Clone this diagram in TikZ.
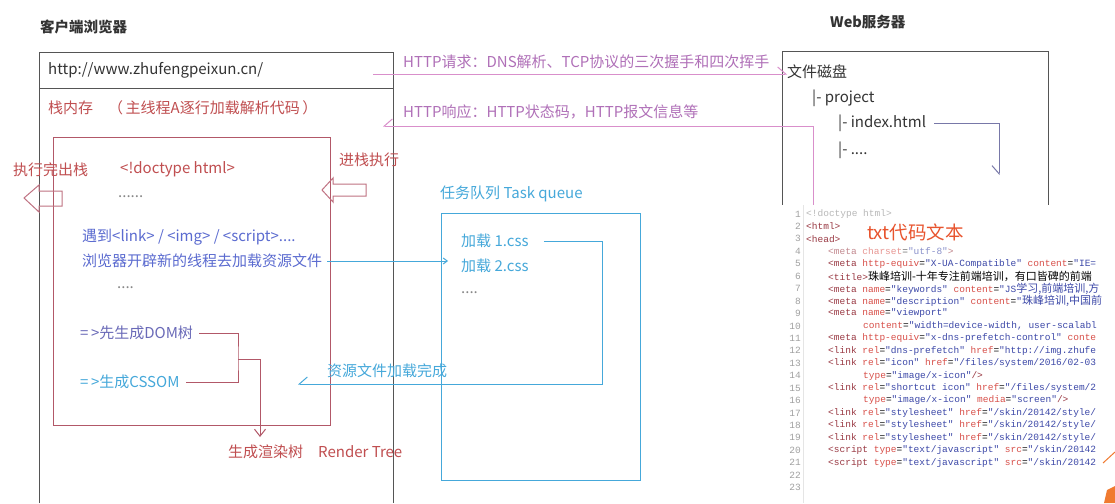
\documentclass[tikz,border=0pt]{standalone}
\usepackage{fontspec}
\setmainfont{Noto Sans CJK SC}
\newfontfamily\codefont{Liberation Mono}
\newfontfamily\cjkcode{Noto Sans CJK SC}
\usetikzlibrary{arrows.meta}
\definecolor{frame}{HTML}{555555}
\definecolor{titletxt}{HTML}{333333}
\definecolor{redtxt}{HTML}{C04E50}
\definecolor{stackc}{HTML}{B25868}
\definecolor{bluetxt}{HTML}{5B6BD0}
\definecolor{domtxt}{HTML}{6A6AB8}
\definecolor{cyanc}{HTML}{45A8DA}
\definecolor{pinkline}{HTML}{D98FCB}
\definecolor{httptxt}{HTML}{B070B8}
\definecolor{arrowc}{HTML}{C07282}
\definecolor{idxline}{HTML}{7878A8}
\definecolor{txtlabel}{HTML}{E8542E}
\definecolor{ctag}{HTML}{9A3A44}
\definecolor{cattr}{HTML}{D8504A}
\definecolor{cval}{HTML}{3C48A8}
\definecolor{cnum}{HTML}{A0A0A0}
\definecolor{cgray}{HTML}{B8B8B8}
\definecolor{dotsc}{HTML}{888888}
\definecolor{slideorange}{HTML}{F07A30}
\newcommand\ctg[1]{\textcolor{ctag}{#1}}
\newcommand\cat[1]{\textcolor{cattr}{#1}}
\newcommand\cvl[1]{\textcolor{cval}{#1}}
\newcommand\ccj[1]{{\cjkcode\fontsize{11}{12}\selectfont #1}}
\tikzset{
  lbl/.style={anchor=west, inner sep=0pt, font=\fontsize{15}{16}\selectfont},
  ttl/.style={anchor=west, inner sep=0pt, text=titletxt, font=\fontsize{14.5}{16}\selectfont\bfseries},
  boxline/.style={draw=frame, line width=1pt},
  codeline/.style={anchor=west, inner sep=0pt, font=\codefont\fontsize{9.5}{10}\selectfont},
  lineno/.style={anchor=east, inner sep=0pt, text=cnum, font=\codefont\fontsize{9.5}{10}\selectfont},
  hollow/.style={draw=arrowc, line width=1pt, line join=miter},
  harp/.style={-{Straight Barb[harpoon,length=8pt,width=14pt]}},
  harpsw/.style={-{Straight Barb[harpoon,swap,length=8pt,width=14pt]}},
  vtip/.style={-{Straight Barb[length=7pt,width=11pt]}},
  smalltip/.style={-{Straight Barb[length=4pt,width=6pt]}},
}
\begin{document}
\begin{tikzpicture}[x=1pt,y=-1pt]
\useasboundingbox (0,0) rectangle (1115,503);
\fill[white] (0,0) rectangle (1115,503);

% ---------- browser ----------
\node[ttl] (btitle) at (40,27) {客户端浏览器};
\draw[boxline] (39,503) -- (39,53) -- (393,53) -- (393,503);
\draw[boxline] (39,88) -- (393,88);
\node[lbl, text=titletxt] (url) at (48,70) {http://www.zhufengpeixun.cn/};
\node[lbl, text=redtxt] (stacktitle) at (48,108) {栈内存\quad（\,主线程A逐行加载解析代码\,）};
\draw[draw=stackc, line width=1pt] (53,137) rectangle (330,425);

\node[lbl, text=redtxt] (popout) at (13,170) {执行完出栈};
\draw[hollow] (24,198) -- (39,185) -- (39,191) -- (62,191) -- (62,206) -- (39,206) -- (39,212) -- cycle;
\node[lbl, text=redtxt] (pushin) at (339,160) {进栈执行};
\draw[hollow] (322,190) -- (333,178) -- (333,184) -- (366,184) -- (366,196) -- (333,196) -- (333,202) -- cycle;

\node[lbl, text=redtxt] (doctype) at (120,169) {<!doctype html>};
\node[lbl, text=dotsc] (dots1) at (118,197) {......};
\node[lbl, text=bluetxt] (meet) at (82,237) {遇到<link> / <img> / <script>....};
\node[lbl, text=bluetxt] (newthread) at (82,261) {浏览器开辟新的线程去加载资源文件};
\node[lbl, text=dotsc] (dots2) at (117,288) {....};
\node[lbl, text=domtxt] (dom) at (80,333) {=\,>先生成DOM树};
\node[lbl, text=cyanc] (cssom) at (80,382) {=\,>生成CSSOM};
\node[lbl, text=redtxt] (render) at (228,452) {生成渲染树\hspace{1em}Render Tree};

\coordinate (brk) at (238,359);
\coordinate (rtarget) at (260,437);
\draw[stackc, line width=1pt] (dom.east) ++(6,0) -| (brk) |- ([xshift=6pt]cssom.east);
\draw[stackc, line width=1pt, vtip] (brk) -| (rtarget);

% ---------- task queue ----------
\node[lbl, text=cyanc] (tqtitle) at (440,194) {任务队列 Task queue};
\draw[draw=cyanc, line width=1pt] (441,213) rectangle (640,480);
\node[lbl, text=cyanc] (css1) at (461,241) {加载 1.css};
\node[lbl, text=cyanc] (css2) at (461,266) {加载 2.css};
\node[lbl, text=dotsc] (dots3) at (461,293) {....};
\coordinate (qin) at (448,261);
\draw[cyanc, line width=1pt, smalltip] ([xshift=5pt]newthread.east) -- (qin);
\coordinate (qturn) at (602,384);
\coordinate (doneend) at (298,384);
\draw[cyanc, line width=1pt, harpsw] ([xshift=15pt]css1.east) -| (qturn) -- (doneend);
\node[lbl, text=cyanc] (donetxt) at (327,371) {资源文件加载完成};

% ---------- HTTP ----------
\node[lbl, text=httptxt] (reqtxt) at (403,62) {HTTP请求：DNS解析、TCP协议的三次握手和四次挥手};
\node[lbl, text=httptxt] (resptxt) at (403,112) {HTTP响应：HTTP状态码，HTTP报文信息等};

% ---------- server ----------
\node[ttl] (stitle) at (830,22) {Web服务器};
\draw[boxline] (782,205) -- (782,52) -- (1048,52) -- (1048,205);
\node[lbl, text=titletxt] (disk) at (787,72) {文件磁盘};
\node[lbl, text=titletxt] (proj) at (812,98) {|- project};
\node[lbl, text=titletxt] (idx) at (838,123) {|- index.html};
\node[lbl, text=titletxt] (more) at (838,150) {|- ....};
\coordinate (idxend) at (999,175);
\draw[idxline, line width=1pt, harpsw] ([xshift=8pt]idx.east) -| (idxend);

\coordinate (reqstart) at (373,74);
\draw[pinkline, line width=1pt, harp] (reqstart) -- (reqstart -| disk.west);
\coordinate (respstart) at (813,205);
\coordinate (respend) at (383,126);
\draw[pinkline, line width=1pt, harpsw] (respstart) |- (respend);

% ---------- code screenshot ----------
\fill[white] (776,205) rectangle (1115,503);
\draw[draw=black!10] (803,205) -- (803,503);
\foreach \i in {1,...,23} {
  \node[lineno] (n\i) at (801,{214+(\i-1)*12.43}) {\i};
}
\node[codeline, text=cgray] (c1) at (806,214) {<!doctype html>};
\node[codeline] (c2) at (806,226.4) {\ctg{<html>}};
\node[codeline] (c3) at (806,238.9) {\ctg{<head>}};
\node[codeline, opacity=0.6] (c4) at (828,251.3) {\ctg{<meta} \cat{charset}=\cvl{"utf-8"}\ctg{>}};
\node[codeline] (c5) at (828,263.7) {\ctg{<meta} \cat{http-equiv}=\cvl{"X-UA-Compatible"} \cat{content}=\cvl{"IE=}};
\node[codeline] (c6) at (828,276.2) {\ctg{<title>}\ccj{珠峰培训-十年专注前端培训，有口皆碑的前端}};
\node[codeline] (c7) at (828,288.6) {\ctg{<meta} \cat{name}=\cvl{"keywords"} \cat{content}=\cvl{"JS\ccj{学习,前端培训,方}}};
\node[codeline] (c8) at (828,301) {\ctg{<meta} \cat{name}=\cvl{"description"} \cat{content}=\cvl{"\ccj{珠峰培训,中国前}}};
\node[codeline] (c9) at (828,313.4) {\ctg{<meta} \cat{name}=\cvl{"viewport"}};
\node[codeline] (c10) at (863,325.9) {\cat{content}=\cvl{"width=device-width, user-scalabl}};
\node[codeline] (c11) at (828,338.3) {\ctg{<meta} \cat{http-equiv}=\cvl{"x-dns-prefetch-control"} \cat{conte}};
\node[codeline] (c12) at (828,350.7) {\ctg{<link} \cat{rel}=\cvl{"dns-prefetch"} \cat{href}=\cvl{"http://img.zhufe}};
\node[codeline] (c13) at (828,363.2) {\ctg{<link} \cat{rel}=\cvl{"icon"} \cat{href}=\cvl{"/files/system/2016/02-03}};
\node[codeline] (c14) at (863,375.6) {\cat{type}=\cvl{"image/x-icon"}\ctg{/>}};
\node[codeline] (c15) at (828,388) {\ctg{<link} \cat{rel}=\cvl{"shortcut icon"} \cat{href}=\cvl{"/files/system/2}};
\node[codeline] (c16) at (863,400.4) {\cat{type}=\cvl{"image/x-icon"} \cat{media}=\cvl{"screen"}\ctg{/>}};
\node[codeline] (c17) at (828,412.9) {\ctg{<link} \cat{rel}=\cvl{"stylesheet"} \cat{href}=\cvl{"/skin/20142/style/}};
\node[codeline] (c18) at (828,425.3) {\ctg{<link} \cat{rel}=\cvl{"stylesheet"} \cat{href}=\cvl{"/skin/20142/style/}};
\node[codeline] (c19) at (828,437.7) {\ctg{<link} \cat{rel}=\cvl{"stylesheet"} \cat{href}=\cvl{"/skin/20142/style/}};
\node[codeline] (c20) at (828,450.2) {\ctg{<script} \cat{type}=\cvl{"text/javascript"} \cat{src}=\cvl{"/skin/20142}};
\node[codeline] (c21) at (828,462.6) {\ctg{<script} \cat{type}=\cvl{"text/javascript"} \cat{src}=\cvl{"/skin/20142}};
\node[anchor=west, inner sep=0pt, text=txtlabel, font=\fontsize{18.5}{20}\selectfont] (txtlbl) at (867,232) {txt代码文本};

% slide decoration
\draw[slideorange, line width=1pt] (1103,463) -- (1115,452);
\fill[slideorange] (1104,503) -- (1107,490) -- (1115,486) -- (1115,503) -- cycle;
\end{tikzpicture}
\end{document}
